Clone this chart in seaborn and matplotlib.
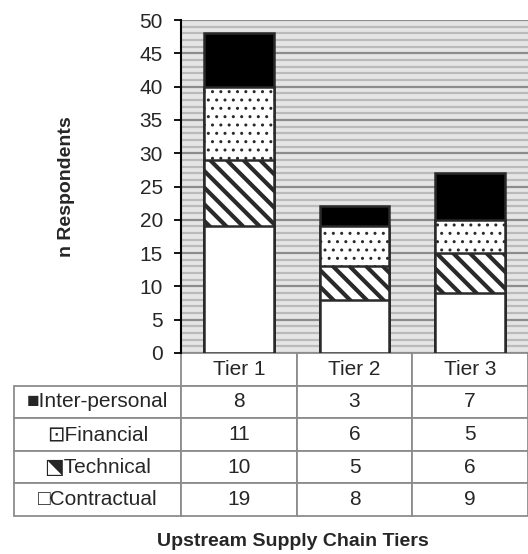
import numpy as np
import pandas as pd
import matplotlib
matplotlib.use('Agg')
import matplotlib.pyplot as plt
import seaborn as sns

# data
tiers = ['Tier 1', 'Tier 2', 'Tier 3']
contractual = [19, 8, 9]
technical = [10, 5, 6]
financial = [11, 6, 5]
interpersonal = [8, 3, 7]

sns.set_theme(style='white')
plt.rcParams['font.family'] = ['Liberation Sans', 'DejaVu Sans']

fig = plt.figure(figsize=(5.28, 5.54), dpi=100)
ax = fig.add_axes([181/528, 1 - 353/554, 347/528, 333/554])
ax.set_facecolor('#e5e5e5')

# cumulative layers, drawn from the top down so each lower layer covers the rest
order = [contractual, technical, financial, interpersonal]
cum = np.cumsum(np.array(order), axis=0)
layers = [
    ('Inter-personal', 'black', '', 1.0),
    ('Financial', 'white', '..', 1.0),
    ('Technical', 'white', '\\\\', 3.0),
    ('Contractual', 'white', '', 1.0),
]

for i, (name, face, hatch, hlw) in enumerate(layers):
    plt.rcParams['hatch.linewidth'] = hlw
    df = pd.DataFrame({'tier': tiers, 'n': cum[3 - i]})
    n_before = len(ax.patches)
    sns.barplot(data=df, x='tier', y='n', color=face, width=0.6, ax=ax,
                edgecolor='#2a2a2a', linewidth=1.8, saturation=1)
    for p in ax.patches[n_before:]:
        p.set_facecolor(face)
        p.set_hatch(hatch)
        if hasattr(p, 'set_hatch_linewidth'):
            p.set_hatch_linewidth(hlw)

ax.set_ylim(0, 50)
ax.set_xlim(-0.5, 2.5)
ax.set_yticks(range(0, 51, 5))
ax.set_yticks(range(0, 51, 1), minor=True)
ax.grid(axis='y', which='major', color='#8c8c8c', linewidth=1.6, zorder=0)
ax.grid(axis='y', which='minor', color='#bababa', linewidth=1.6, zorder=0)
ax.set_axisbelow(True)
ax.tick_params(axis='y', which='major', left=True, length=5, width=1.3,
               color='black', labelsize=15, pad=8)
ax.tick_params(axis='y', which='minor', left=False)
ax.set_xticks([])
ax.set_xlabel('')
ax.set_ylabel('n Respondents', fontsize=14, fontweight='bold')
ax.yaxis.set_label_coords((75 - 181) / 347, 0.5)
for s in ['top', 'right', 'bottom']:
    ax.spines[s].set_visible(False)
ax.spines['left'].set_color('black')
ax.spines['left'].set_linewidth(1.5)

# data table under the bars
row_names = ['\u25a0Inter-personal', '\u22a1Financial', '\u2b14Technical', '\u25a1Contractual']
rows = [interpersonal, financial, technical, contractual]
cell_text = [[''] + tiers] + [[row_names[k]] + [str(v) for v in rows[k]] for k in range(4)]
tbl = ax.table(cellText=cell_text, cellLoc='center',
               bbox=[(14 - 181) / 347, -163 / 333, 514 / 347, 163 / 333])
tbl.auto_set_font_size(False)
tbl.set_fontsize(15)
w0 = 167 / 514
w1 = (1 - w0) / 3
for (r, c), cell in tbl.get_celld().items():
    cell.set_width(w0 if c == 0 else w1)
    cell.set_edgecolor('#8c8c8c')
    cell.set_linewidth(1.3)
    cell.set_facecolor('white')
    if c == 0:
        cell._loc = 'left'
        cell.PAD = 0.015
    if r == 0 and c == 0:
        cell.visible_edges = ''

fig.text(293 / 528, 1 - 541 / 554, 'Upstream Supply Chain Tiers', ha='center',
         va='center', fontsize=14, fontweight='bold')

fig.savefig('out.png', dpi=100)
